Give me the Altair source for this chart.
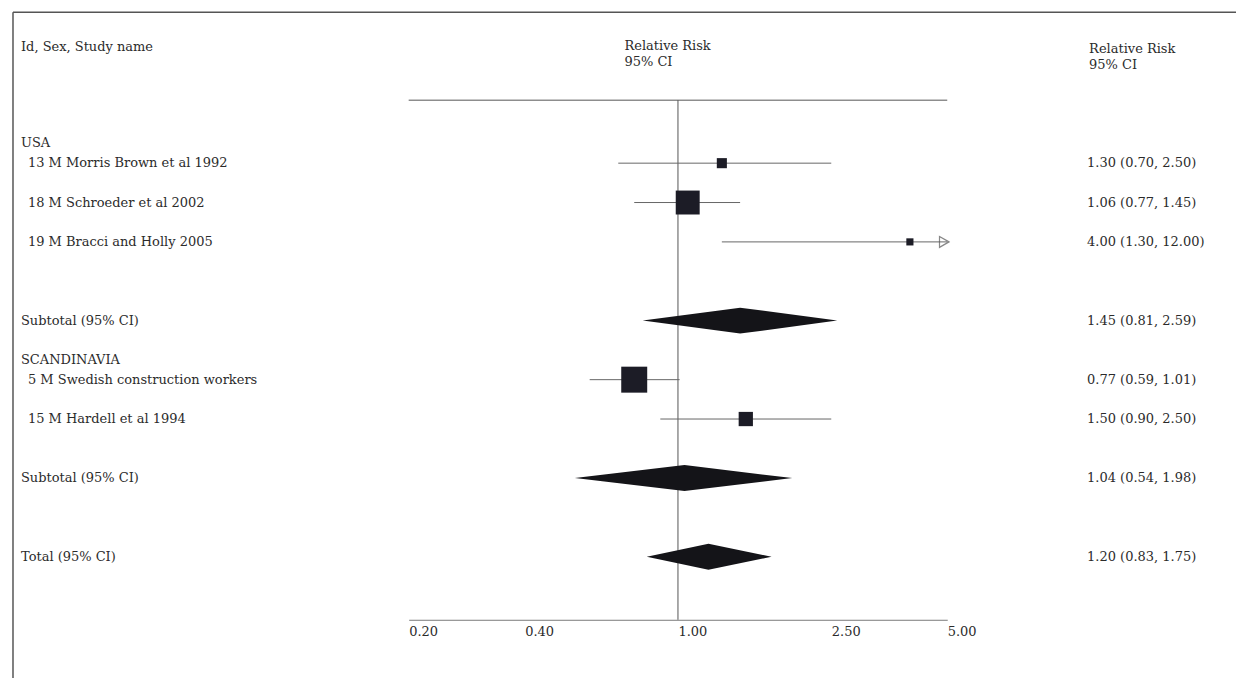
import altair as alt
import pandas as pd

# ---------------- data ----------------
header_left = "Id, Sex, Study name"
header_ci = "Relative Risk\n95% CI"

group_names = ["USA", "SCANDINAVIA"]
group_rows = [7, 18]

row_labels = [
    "13 M Morris Brown et al 1992",
    "18 M Schroeder et al 2002",
    "19 M Bracci and Holly 2005",
    "Subtotal (95% CI)",
    "5 M Swedish construction workers",
    "15 M Hardell et al 1994",
    "Subtotal (95% CI)",
    "Total (95% CI)",
]
row_kind = ["study", "study", "study", "pooled", "study", "study", "pooled", "pooled"]
row_pos = [8, 10, 12, 16, 19, 21, 24, 28]
rr = [1.30, 1.06, 4.00, 1.45, 0.77, 1.50, 1.04, 1.20]
ci_low = [0.70, 0.77, 1.30, 0.81, 0.59, 0.90, 0.54, 0.83]
ci_high = [2.50, 1.45, 12.00, 2.59, 1.01, 2.50, 1.98, 1.75]
weights = [8, 45, 4, 0, 53, 16, 0, 0]

x_ticks = [0.2, 0.4, 1.0, 2.5, 5.0]
x_min, x_max = 0.2, 5.0
header_row = 2.1
header_ci_row = 2.06
top_rule_row = 4.8

# ---------------- tables ----------------
df = pd.DataFrame({
    "label": row_labels, "kind": row_kind, "row": row_pos,
    "rr": rr, "lo": ci_low, "hi": ci_high, "w": weights,
})
df["ci_text"] = [f"{a:.2f} ({b:.2f}, {c:.2f})" for a, b, c in zip(rr, ci_low, ci_high)]
studies = df[df["kind"] == "study"]
pooled = df[df["kind"] == "pooled"]

half_h = 0.66  # diamond half-height in row units
diamond_rows = []
for k, (lo_, rr_, hi_, row_) in enumerate(zip(pooled["lo"], pooled["rr"], pooled["hi"], pooled["row"])):
    diamond_rows += [
        {"dia": f"d{k}", "xv": float(lo_), "ylo": float(row_), "yhi": float(row_)},
        {"dia": f"d{k}", "xv": float(rr_), "ylo": float(row_) - half_h, "yhi": float(row_) + half_h},
        {"dia": f"d{k}", "xv": float(hi_), "ylo": float(row_), "yhi": float(row_)},
    ]
diamonds = pd.DataFrame(diamond_rows)

groups = pd.DataFrame({"label": group_names, "row": group_rows})
frame_df = pd.DataFrame({"a": [x_min], "b": [x_max], "one": [1.0], "r": [top_rule_row]})
head_df = pd.DataFrame({"h": [header_left], "row": [header_row],
                        "c": [header_ci], "crow": [header_ci_row]})

# ---------------- scales ----------------
W, H = 1229, 612
FONT = "DejaVu Serif"
FS = 13
TXT = "#2b2b2b"

x_scale = alt.Scale(type="log", domain=[x_min, x_max], range=[401, 940], clamp=True, nice=False)
x_axis = alt.Axis(values=x_ticks, format=".2f", title=None, grid=False, ticks=False,
                  domainColor="#7a7a7a", domainWidth=1, labelFont=FONT, labelFontSize=FS,
                  labelColor=TXT, labelAlign="left", labelPadding=6)
y_scale = alt.Scale(domain=[0.13, 31.2], reverse=True, nice=False, zero=False)


def X(field):
    return alt.X(field, type="quantitative", scale=x_scale, axis=x_axis)


def Y(field):
    return alt.Y(field, type="quantitative", scale=y_scale, axis=None)


# border of the figure
border_top = alt.Chart(frame_df).mark_rule(color="#555", strokeWidth=1.5).encode(
    x=alt.value(5), x2=alt.value(W), y=alt.value(4))
border_left = alt.Chart(frame_df).mark_rule(color="#555", strokeWidth=1.5).encode(
    x=alt.value(5), y=alt.value(4), y2=alt.value(H + 62))

top_rule = alt.Chart(frame_df).mark_rule(color="#555", strokeWidth=1).encode(
    x=X("a"), x2="b", y=Y("r"))
null_line = alt.Chart(frame_df).mark_rule(color="#555", strokeWidth=1).encode(
    x=X("one"), y=Y("r"), y2=alt.value(H))

ci_lines = alt.Chart(studies).mark_rule(color="#666", strokeWidth=1).encode(
    x=X("lo"), x2="hi", y=Y("row"))
arrows = alt.Chart(studies).transform_filter(alt.datum.hi > x_max).mark_point(
    shape="triangle-right", filled=False, color="#555", strokeWidth=1.2, size=120, xOffset=-3).encode(
    x=X("hi"), y=Y("row"))
squares = alt.Chart(studies).mark_square(color="#1c1c26", opacity=1).encode(
    x=X("rr"), y=Y("row"),
    size=alt.Size("w:Q", scale=alt.Scale(domain=[0, 53], range=[0, 676]), legend=None))
diamond_layer = alt.Chart(diamonds).mark_area(color="#141418", opacity=1).encode(
    x=X("xv"), y=Y("ylo"), y2="yhi", detail="dia:N")

text_kw = dict(align="left", baseline="middle", font=FONT, fontSize=FS, color=TXT)
study_text = alt.Chart(studies).mark_text(**text_kw).encode(
    x=alt.value(20), y=Y("row"), text="label:N")
pooled_text = alt.Chart(pooled).mark_text(**text_kw).encode(
    x=alt.value(13), y=Y("row"), text="label:N")
group_text = alt.Chart(groups).mark_text(**text_kw).encode(
    x=alt.value(13), y=Y("row"), text="label:N")
right_text = alt.Chart(df).mark_text(**text_kw).encode(
    x=alt.value(1080), y=Y("row"), text="ci_text:N")

head_left = alt.Chart(head_df).mark_text(**text_kw).encode(
    x=alt.value(13), y=Y("row"), text="h:N")
head_mid = alt.Chart(head_df).mark_text(lineBreak="\n", lineHeight=16, **text_kw).encode(
    x=alt.value(617), y=Y("crow"), text="c:N")
head_right = alt.Chart(head_df).mark_text(lineBreak="\n", lineHeight=16, dy=3, **text_kw).encode(
    x=alt.value(1082), y=Y("crow"), text="c:N")

chart = alt.layer(
    border_top, border_left, top_rule, null_line, ci_lines, arrows, squares, diamond_layer,
    study_text, pooled_text, group_text, right_text, head_left, head_mid, head_right,
).properties(width=W, height=H, padding=0, background="white").configure_view(stroke=None)

chart.save("out.html", embed_options={"renderer": "svg", "actions": False})
